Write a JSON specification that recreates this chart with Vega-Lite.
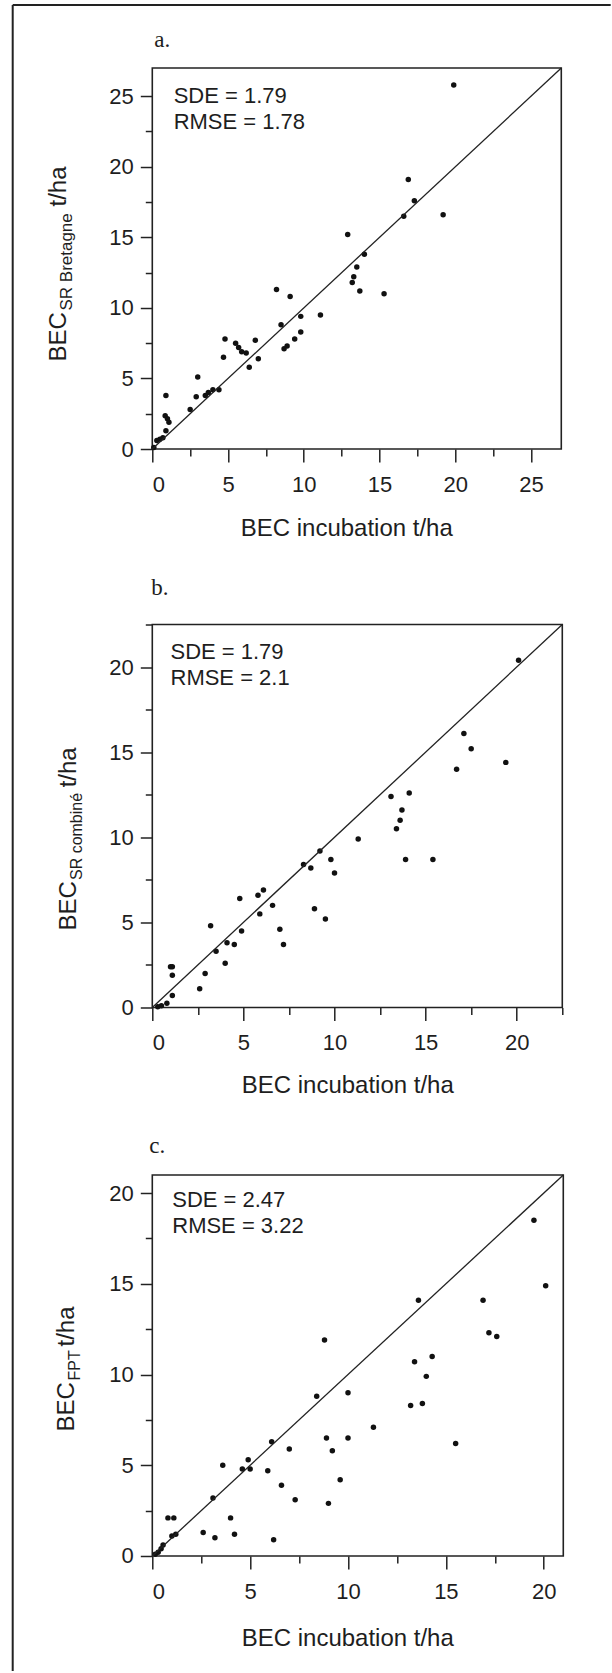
{
  "$schema": "https://vega.github.io/schema/vega-lite/v6.json",
  "background": "white",
  "padding": {"left": 11.7, "top": 4, "right": 0, "bottom": 0},
  "columns": 2,
  "align": "none",
  "spacing": -566.4,
  "config": {
    "view": {"stroke": "#222", "strokeWidth": 1.6},
    "axis": {"grid": false, "domain": false, "labelFont": "Liberation Sans", "labelFontSize": 22, "labelColor": "#1e1e1e", "tickColor": "#222", "tickWidth": 1.5, "titleFont": "Liberation Sans", "titleFontSize": 24, "titleFontWeight": "normal", "titleColor": "#1e1e1e"},
    "title": {"font": "Liberation Serif", "fontSize": 23, "fontWeight": "normal", "anchor": "start", "color": "#1e1e1e", "frame": "group"},
    "text": {"font": "Liberation Sans"}
  },
  "datasets": {
    "panelA": [
      {"x": 19.9, "y": 25.8}, {"x": 16.9, "y": 19.1}, {"x": 17.3, "y": 17.6}, {"x": 16.6, "y": 16.5}, {"x": 19.2, "y": 16.6},
      {"x": 12.9, "y": 15.2}, {"x": 14.0, "y": 13.8}, {"x": 13.5, "y": 12.9}, {"x": 13.3, "y": 12.2}, {"x": 13.2, "y": 11.8},
      {"x": 13.7, "y": 11.2}, {"x": 15.3, "y": 11.0}, {"x": 8.2, "y": 11.3}, {"x": 9.1, "y": 10.8}, {"x": 11.1, "y": 9.5},
      {"x": 9.8, "y": 9.4}, {"x": 9.8, "y": 8.3}, {"x": 9.4, "y": 7.8}, {"x": 8.5, "y": 8.8}, {"x": 8.7, "y": 7.1},
      {"x": 8.9, "y": 7.3}, {"x": 4.8, "y": 7.8}, {"x": 4.7, "y": 6.5}, {"x": 5.5, "y": 7.5}, {"x": 5.7, "y": 7.2},
      {"x": 5.9, "y": 6.9}, {"x": 6.2, "y": 6.8}, {"x": 6.8, "y": 7.7}, {"x": 7.0, "y": 6.4}, {"x": 6.4, "y": 5.8},
      {"x": 3.0, "y": 5.1}, {"x": 2.9, "y": 3.7}, {"x": 2.5, "y": 2.8}, {"x": 3.5, "y": 3.8}, {"x": 3.7, "y": 4.0},
      {"x": 4.0, "y": 4.2}, {"x": 4.4, "y": 4.2}, {"x": 0.9, "y": 3.8}, {"x": 0.85, "y": 2.35}, {"x": 1.0, "y": 2.15},
      {"x": 1.1, "y": 1.9}, {"x": 0.9, "y": 1.3}, {"x": 0.5, "y": 0.7}, {"x": 0.3, "y": 0.6}, {"x": 0.7, "y": 0.8},
      {"x": 0.1, "y": 0.1}
    ],
    "panelB": [
      {"x": 20.1, "y": 20.4}, {"x": 17.1, "y": 16.1}, {"x": 17.5, "y": 15.2}, {"x": 16.7, "y": 14.0}, {"x": 19.4, "y": 14.4},
      {"x": 13.1, "y": 12.4}, {"x": 14.1, "y": 12.6}, {"x": 13.7, "y": 11.6}, {"x": 13.6, "y": 11.0}, {"x": 13.4, "y": 10.5},
      {"x": 13.9, "y": 8.7}, {"x": 15.4, "y": 8.7}, {"x": 11.3, "y": 9.9}, {"x": 9.8, "y": 8.7}, {"x": 10.0, "y": 7.9},
      {"x": 9.2, "y": 9.2}, {"x": 8.3, "y": 8.4}, {"x": 8.7, "y": 8.2}, {"x": 8.9, "y": 5.8}, {"x": 9.5, "y": 5.2},
      {"x": 6.1, "y": 6.9}, {"x": 5.8, "y": 6.6}, {"x": 5.9, "y": 5.5}, {"x": 6.6, "y": 6.0}, {"x": 4.8, "y": 6.4},
      {"x": 4.9, "y": 4.5}, {"x": 7.0, "y": 4.6}, {"x": 7.2, "y": 3.7}, {"x": 3.2, "y": 4.8}, {"x": 3.5, "y": 3.3},
      {"x": 4.1, "y": 3.8}, {"x": 4.5, "y": 3.7}, {"x": 4.0, "y": 2.6}, {"x": 2.9, "y": 2.0}, {"x": 2.6, "y": 1.1},
      {"x": 1.0, "y": 2.4}, {"x": 1.1, "y": 2.4}, {"x": 1.1, "y": 1.9}, {"x": 1.1, "y": 0.7}, {"x": 0.8, "y": 0.25},
      {"x": 0.5, "y": 0.1}, {"x": 0.3, "y": 0.05}
    ],
    "panelC": [
      {"x": 19.5, "y": 18.5}, {"x": 20.1, "y": 14.9}, {"x": 16.9, "y": 14.1}, {"x": 17.2, "y": 12.3}, {"x": 17.6, "y": 12.1},
      {"x": 13.6, "y": 14.1}, {"x": 13.4, "y": 10.7}, {"x": 14.3, "y": 11.0}, {"x": 14.0, "y": 9.9}, {"x": 13.2, "y": 8.3},
      {"x": 13.8, "y": 8.4}, {"x": 15.5, "y": 6.2}, {"x": 11.3, "y": 7.1}, {"x": 8.8, "y": 11.9}, {"x": 8.4, "y": 8.8},
      {"x": 10.0, "y": 9.0}, {"x": 8.9, "y": 6.5}, {"x": 10.0, "y": 6.5}, {"x": 9.2, "y": 5.8}, {"x": 9.6, "y": 4.2},
      {"x": 9.0, "y": 2.9}, {"x": 6.1, "y": 6.3}, {"x": 7.0, "y": 5.9}, {"x": 5.9, "y": 4.7}, {"x": 6.6, "y": 3.9},
      {"x": 7.3, "y": 3.1}, {"x": 6.2, "y": 0.9}, {"x": 4.9, "y": 5.3}, {"x": 5.0, "y": 4.8}, {"x": 4.6, "y": 4.8},
      {"x": 3.6, "y": 5.0}, {"x": 3.1, "y": 3.2}, {"x": 4.0, "y": 2.1}, {"x": 4.2, "y": 1.2}, {"x": 2.6, "y": 1.3},
      {"x": 3.2, "y": 1.0}, {"x": 0.8, "y": 2.1}, {"x": 1.1, "y": 2.1}, {"x": 1.2, "y": 1.2}, {"x": 1.0, "y": 1.1},
      {"x": 0.55, "y": 0.6}, {"x": 0.45, "y": 0.4}, {"x": 0.3, "y": 0.2}, {"x": 0.15, "y": 0.1}
    ],
    "annotA": [{"x": 1.41, "y": 24.5, "label": "SDE = 1.79"}, {"x": 1.41, "y": 22.67, "label": "RMSE = 1.78"}],
    "annotB": [{"x": 1.0, "y": 20.49, "label": "SDE = 1.79"}, {"x": 1.0, "y": 18.92, "label": "RMSE = 2.1"}],
    "annotC": [{"x": 1.02, "y": 19.22, "label": "SDE = 2.47"}, {"x": 1.02, "y": 17.79, "label": "RMSE = 3.22"}]
  },
  "concat": [
    {
      "width": 598, "height": 1666,
      "view": {"stroke": "#222", "strokeWidth": 2, "strokeDash": [598, 2264, 1666, 0], "fill": null},
      "data": {"values": [{}]},
      "mark": {"type": "point", "size": 0, "opacity": 0}
    },
    {
      "spacing": 22,
      "vconcat": [
        {
          "width": 10, "height": 1,
          "view": {"stroke": null},
          "data": {"values": [{}]},
          "mark": {"type": "point", "size": 0, "opacity": 0}
        },
        {
          "spacing": 34.5,
          "vconcat": [
            {
              "title": {"text": "a.", "offset": 13.4, "dx": 2},
              "width": 409, "height": 381,
              "resolve": {"axis": {"x": "independent", "y": "independent"}},
              "layer": [
                {
                  "data": {"name": "panelA"},
                  "mark": {"type": "circle", "size": 30, "color": "#111", "opacity": 1},
                  "encoding": {
                    "x": {"field": "x", "type": "quantitative", "scale": {"domain": [0, 27], "nice": false},
                      "axis": {"orient": "bottom", "values": [0, 5, 10, 15, 20, 25], "tickSize": 13, "labelPadding": 12.5, "title": "BEC incubation t/ha", "titleX": 194, "titleY": 67.5, "titleAlign": "center", "titleBaseline": "top"}},
                    "y": {"field": "y", "type": "quantitative", "scale": {"domain": [0, 27], "nice": false},
                      "axis": {"orient": "left", "values": [0, 5, 10, 15, 20, 25], "tickSize": 12, "labelPadding": 7, "title": "BEC", "titleAngle": 270, "titleX": -86.5, "titleY": 293, "titleAlign": "left", "titleBaseline": "alphabetic"}}
                  }
                },
                {
                  "data": {"values": [{"x": 0, "y": 0}, {"x": 27, "y": 27}]},
                  "mark": {"type": "line", "color": "#222", "strokeWidth": 1.3},
                  "encoding": {
                    "x": {"field": "x", "type": "quantitative", "scale": {"domain": [0, 27], "nice": false},
                      "axis": {"orient": "bottom", "values": [2.5, 7.5, 12.5, 17.5, 22.5], "tickSize": 7, "labels": false, "title": null}},
                    "y": {"field": "y", "type": "quantitative", "scale": {"domain": [0, 27], "nice": false},
                      "axis": {"orient": "left", "values": [2.5, 7.5, 12.5, 17.5, 22.5], "tickSize": 7, "labels": false, "title": "SR Bretagne", "titleFontSize": 17, "titleAngle": 270, "titleX": -80.5, "titleY": 242, "titleAlign": "left", "titleBaseline": "alphabetic"}}
                  }
                },
                {
                  "data": {"name": "annotA"},
                  "mark": {"type": "text", "align": "left", "baseline": "alphabetic", "fontSize": 22, "color": "#1e1e1e"},
                  "encoding": {
                    "x": {"field": "x", "type": "quantitative", "scale": {"domain": [0, 27], "nice": false}, "axis": null},
                    "y": {"field": "y", "type": "quantitative", "scale": {"domain": [0, 27], "nice": false},
                      "axis": {"orient": "left", "ticks": false, "labels": false, "title": "t/ha", "titleAngle": 270, "titleX": -86.5, "titleY": 138, "titleAlign": "left", "titleBaseline": "alphabetic"}},
                    "text": {"field": "label"}
                  }
                }
              ]
            },
            {
              "title": {"text": "b.", "offset": 21.5, "dx": -1},
              "width": 410, "height": 383,
              "resolve": {"axis": {"x": "independent", "y": "independent"}},
              "layer": [
                {
                  "data": {"name": "panelB"},
                  "mark": {"type": "circle", "size": 30, "color": "#111", "opacity": 1},
                  "encoding": {
                    "x": {"field": "x", "type": "quantitative", "scale": {"domain": [0, 22.5], "nice": false},
                      "axis": {"orient": "bottom", "values": [0, 5, 10, 15, 20], "tickSize": 13, "labelPadding": 12.5, "title": "BEC incubation t/ha", "titleX": 195, "titleY": 66.5, "titleAlign": "center", "titleBaseline": "top"}},
                    "y": {"field": "y", "type": "quantitative", "scale": {"domain": [0, 22.5], "nice": false},
                      "axis": {"orient": "left", "values": [0, 5, 10, 15, 20], "tickSize": 12, "labelPadding": 7, "title": "BEC", "titleAngle": 270, "titleX": -76.8, "titleY": 305.6, "titleAlign": "left", "titleBaseline": "alphabetic"}}
                  }
                },
                {
                  "data": {"values": [{"x": 0, "y": 0}, {"x": 22.5, "y": 22.5}]},
                  "mark": {"type": "line", "color": "#222", "strokeWidth": 1.3},
                  "encoding": {
                    "x": {"field": "x", "type": "quantitative", "scale": {"domain": [0, 22.5], "nice": false},
                      "axis": {"orient": "bottom", "values": [2.5, 7.5, 12.5, 17.5, 22.5], "tickSize": 7, "labels": false, "title": null}},
                    "y": {"field": "y", "type": "quantitative", "scale": {"domain": [0, 22.5], "nice": false},
                      "axis": {"orient": "left", "values": [2.5, 7.5, 12.5, 17.5, 22.5], "tickSize": 7, "labels": false, "title": "SR combiné", "titleFontSize": 16, "titleAngle": 270, "titleX": -70.8, "titleY": 255, "titleAlign": "left", "titleBaseline": "alphabetic"}}
                  }
                },
                {
                  "data": {"name": "annotB"},
                  "mark": {"type": "text", "align": "left", "baseline": "alphabetic", "fontSize": 22, "color": "#1e1e1e"},
                  "encoding": {
                    "x": {"field": "x", "type": "quantitative", "scale": {"domain": [0, 22.5], "nice": false}, "axis": null},
                    "y": {"field": "y", "type": "quantitative", "scale": {"domain": [0, 22.5], "nice": false},
                      "axis": {"orient": "left", "ticks": false, "labels": false, "title": "t/ha", "titleAngle": 270, "titleX": -76.8, "titleY": 162.3, "titleAlign": "left", "titleBaseline": "alphabetic"}},
                    "text": {"field": "label"}
                  }
                }
              ]
            },
            {
              "title": {"text": "c.", "offset": 14.5, "dx": -3},
              "width": 411, "height": 381,
              "resolve": {"axis": {"x": "independent", "y": "independent"}},
              "layer": [
                {
                  "data": {"name": "panelC"},
                  "mark": {"type": "circle", "size": 30, "color": "#111", "opacity": 1},
                  "encoding": {
                    "x": {"field": "x", "type": "quantitative", "scale": {"domain": [0, 21], "nice": false},
                      "axis": {"orient": "bottom", "values": [0, 5, 10, 15, 20], "tickSize": 13, "labelPadding": 12.5, "title": "BEC incubation t/ha", "titleX": 195, "titleY": 71, "titleAlign": "center", "titleBaseline": "top"}},
                    "y": {"field": "y", "type": "quantitative", "scale": {"domain": [0, 21], "nice": false},
                      "axis": {"orient": "left", "values": [0, 5, 10, 15, 20], "tickSize": 12, "labelPadding": 7, "title": "BEC", "titleAngle": 270, "titleX": -78.3, "titleY": 256, "titleAlign": "left", "titleBaseline": "alphabetic"}}
                  }
                },
                {
                  "data": {"values": [{"x": 0, "y": 0}, {"x": 21, "y": 21}]},
                  "mark": {"type": "line", "color": "#222", "strokeWidth": 1.3},
                  "encoding": {
                    "x": {"field": "x", "type": "quantitative", "scale": {"domain": [0, 21], "nice": false},
                      "axis": {"orient": "bottom", "values": [2.5, 7.5, 12.5, 17.5], "tickSize": 7, "labels": false, "title": null}},
                    "y": {"field": "y", "type": "quantitative", "scale": {"domain": [0, 21], "nice": false},
                      "axis": {"orient": "left", "values": [2.5, 7.5, 12.5, 17.5], "tickSize": 7, "labels": false, "title": "FPT", "titleFontSize": 16, "titleAngle": 270, "titleX": -72.3, "titleY": 205, "titleAlign": "left", "titleBaseline": "alphabetic"}}
                  }
                },
                {
                  "data": {"name": "annotC"},
                  "mark": {"type": "text", "align": "left", "baseline": "alphabetic", "fontSize": 22, "color": "#1e1e1e"},
                  "encoding": {
                    "x": {"field": "x", "type": "quantitative", "scale": {"domain": [0, 21], "nice": false}, "axis": null},
                    "y": {"field": "y", "type": "quantitative", "scale": {"domain": [0, 21], "nice": false},
                      "axis": {"orient": "left", "ticks": false, "labels": false, "title": "t/ha", "titleAngle": 270, "titleX": -78.3, "titleY": 171, "titleAlign": "left", "titleBaseline": "alphabetic"}},
                    "text": {"field": "label"}
                  }
                }
              ]
            }
          ]
        }
      ]
    }
  ]
}
